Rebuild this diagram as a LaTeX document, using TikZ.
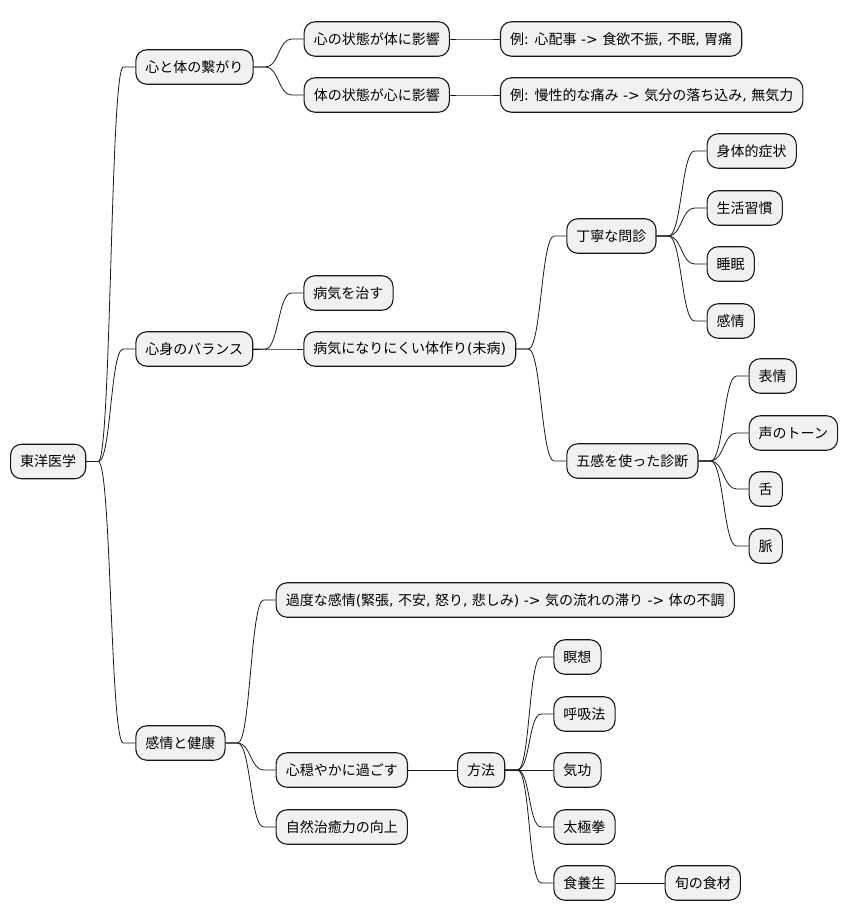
\documentclass[tikz,border=0pt]{standalone}
\usepackage{fontspec}
\setmainfont{Noto Sans CJK JP}
\newfontfamily\asciifont{DejaVu Sans}
\newcommand{\asc}[1]{{\asciifont#1}}
\usetikzlibrary{positioning}
\definecolor{cFill}{HTML}{F1F1F1}
\definecolor{cInk}{HTML}{181818}
\tikzset{
  topic/.style ={draw=cInk,fill=cFill,line width=1.1pt,rounded corners=11pt,
                 minimum height=34.5pt,inner xsep=9.6pt,inner ysep=3pt,
                 font=\fontsize{14pt}{16pt}\selectfont},
  link/.style  ={draw=cInk,line width=0.8pt},
}
\newcommand{\branch}[2]{%
  \draw[link] (#1.east) -- ++(12pt,0) .. controls +(13pt,0) and +(-13pt,0)
    .. ([xshift=-12pt]#2.west) -- (#2.west);}

\begin{document}
\begin{tikzpicture}[x=1pt,y=-1pt]
\useasboundingbox (0,0) rectangle (849,921);
% root
\node[topic,anchor=west] (root) at (10,461.5) {東洋医学};

% first level
\node[topic,right=49pt of root,yshift=394.5pt] (conn) {心と体の繋がり};
\node[topic,right=49pt of root,yshift=112.5pt] (balance) {心身のバランス};
\node[topic,right=49pt of root,yshift=-281.5pt] (health) {感情と健康};

% mind and body
\node[topic,right=50pt of conn,yshift=28pt] (mindbody) {心の状態が体に影響};
\node[topic,right=50pt of conn,yshift=-28pt] (bodymind) {体の状態が心に影響};
\node[topic,right=50pt of mindbody] (exone) {例\asc{: }心配事\asc{ -> }食欲不振\asc{, }不眠\asc{, }胃痛};
\node[topic,right=50pt of bodymind] (extwo) {例\asc{: }慢性的な痛み\asc{ -> }気分の落ち込み\asc{, }無気力};

% balance
\node[topic,right=50pt of balance,yshift=56pt] (cure) {病気を治す};
\node[topic,right=50pt of balance] (prevent) {病気になりにくい体作り\asc{(}未病\asc{)}};
\node[topic,right=50pt of prevent,yshift=113pt] (interview) {丁寧な問診};
\node[topic,right=50pt of prevent,yshift=-112pt] (senses) {五感を使った診断};
\node[topic,right=50pt of interview,yshift=85pt] (symptom) {身体的症状};
\node[topic,right=50pt of interview,yshift=28pt] (habit) {生活習慣};
\node[topic,right=50pt of interview,yshift=-28pt] (sleep) {睡眠};
\node[topic,right=50pt of interview,yshift=-85pt] (emotion) {感情};
\node[topic,right=50pt of senses,yshift=85pt] (face) {表情};
\node[topic,right=50pt of senses,yshift=28pt] (voice) {声のトーン};
\node[topic,right=50pt of senses,yshift=-28pt] (tongue) {舌};
\node[topic,right=50pt of senses,yshift=-85pt] (pulse) {脈};

% emotions and health
\node[topic,right=50pt of health,yshift=143pt] (excess)
  {過度な感情\asc{(}緊張\asc{, }不安\asc{, }怒り\asc{, }悲しみ\asc{) -> }気の流れの滞り\asc{ -> }体の不調};
\node[topic,right=50pt of health,yshift=-27pt] (calm) {心穏やかに過ごす};
\node[topic,right=50pt of health,yshift=-84pt] (healing) {自然治癒力の向上};
\node[topic,right=49pt of calm] (method) {方法};
\node[topic,right=48pt of method,yshift=113pt] (meditate) {瞑想};
\node[topic,right=48pt of method,yshift=56pt] (breath) {呼吸法};
\node[topic,right=48pt of method] (qigong) {気功};
\node[topic,right=48pt of method,yshift=-57pt] (taichi) {太極拳};
\node[topic,right=48pt of method,yshift=-113pt] (diet) {食養生};
\node[topic,right=49pt of diet] (seasonal) {旬の食材};

% connectors
\branch{root}{conn} \branch{root}{balance} \branch{root}{health}
\branch{conn}{mindbody} \branch{conn}{bodymind}
\branch{mindbody}{exone} \branch{bodymind}{extwo}
\branch{balance}{cure} \branch{balance}{prevent}
\branch{prevent}{interview} \branch{prevent}{senses}
\branch{interview}{symptom} \branch{interview}{habit}
\branch{interview}{sleep} \branch{interview}{emotion}
\branch{senses}{face} \branch{senses}{voice}
\branch{senses}{tongue} \branch{senses}{pulse}
\branch{health}{excess} \branch{health}{calm} \branch{health}{healing}
\branch{calm}{method}
\branch{method}{meditate} \branch{method}{breath} \branch{method}{qigong}
\branch{method}{taichi} \branch{method}{diet}
\branch{diet}{seasonal}
\end{tikzpicture}
\end{document}
